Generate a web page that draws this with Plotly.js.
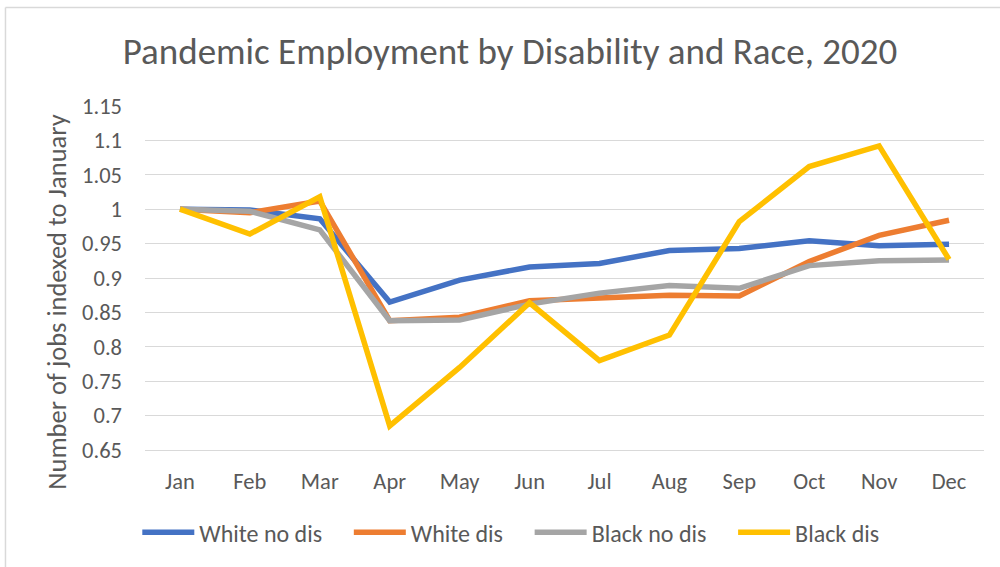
<!DOCTYPE html>
<html>
<head>
<meta charset="utf-8">
<script src="https://cdn.plot.ly/plotly-3.0.1.min.js"></script>
<style>
html,body{margin:0;padding:0;background:#fff;}
#chart{width:1000px;height:567px;}
</style>
</head>
<body>
<div id="chart"></div>
<script>
const months = ["Jan","Feb","Mar","Apr","May","Jun","Jul","Aug","Sep","Oct","Nov","Dec"];
const whiteNoDis = [1.0, 0.999, 0.986, 0.865, 0.897, 0.916, 0.921, 0.940, 0.943, 0.954, 0.947, 0.949];
const whiteDis   = [1.0, 0.995, 1.012, 0.838, 0.843, 0.867, 0.871, 0.875, 0.874, 0.924, 0.962, 0.984];
const blackNoDis = [1.0, 0.997, 0.970, 0.838, 0.839, 0.862, 0.878, 0.889, 0.885, 0.918, 0.925, 0.926];
const blackDis   = [1.0, 0.964, 1.018, 0.685, 0.770, 0.864, 0.780, 0.817, 0.982, 1.062, 1.092, 0.927];
const seriesNames = ["White no dis","White dis","Black no dis","Black dis"];
const colors = ["#4472C4","#ED7D31","#A5A5A5","#FFC000"];
const yTicks = [0.65,0.7,0.75,0.8,0.85,0.9,0.95,1,1.05,1.1,1.15];

const pad = "\u00a0\u00a0\u00a0\u00a0";
const data = [whiteNoDis, whiteDis, blackNoDis, blackDis].map((vals,i)=>({
  type:"scatter", mode:"lines", x:months, y:vals,
  name: seriesNames[i] + (i < 3 ? pad : ""),
  line:{color:colors[i], width:5.5, shape:"linear"}, cliponaxis:false
}));

const font = "Calibri, Carlito, 'Open Sans', 'Noto Sans', sans-serif";
const layout = {
  width:1000, height:567,
  margin:{l:145, r:16, t:106, b:115},
  paper_bgcolor:"#fff", plot_bgcolor:"#fff",
  font:{family:font, color:"#595959", size:22},
  title:{text:"Pandemic Employment by Disability and Race, 2020", x:0.51, xanchor:"center", y:0.91, yanchor:"middle",
         font:{size:37, color:"#595959", family:font}},
  xaxis:{type:"category", range:[-0.5,11.5], showgrid:false, zeroline:false, showline:true, linecolor:"#D9D9D9", linewidth:1,
         ticks:"", tickfont:{size:22.5, color:"#595959"}, ticklabelstandoff:11, fixedrange:true},
  yaxis:{range:[0.65,1.15], tickvals:yTicks, ticktext:yTicks.map(String), showgrid:true, gridcolor:"#D9D9D9", gridwidth:1,
         zeroline:false, showline:false, ticks:"", ticklen:0, tickfont:{size:22.5, color:"#595959"}, ticklabelstandoff:22},
  annotations:[{text:"Number of jobs indexed to January", xref:"paper", yref:"paper", x:-0.105, y:0.431,
                xanchor:"center", yanchor:"middle", textangle:-90, showarrow:false,
                font:{size:26.5, color:"#595959", family:font}}],
  legend:{orientation:"h", x:0.436, xanchor:"center", y:-0.175, yanchor:"top", font:{size:24, color:"#595959"},
          itemwidth:52, tracegroupgap:0},
  showlegend:true,
  shapes:[
    {type:"line", xref:"paper", yref:"paper", x0:-0.1663, x1:1.02, y0:1.286, y1:1.286, line:{color:"#D9D9D9", width:1.5}, layer:"below"},
    {type:"line", xref:"paper", yref:"paper", x0:-0.1663, x1:-0.1663, y0:1.286, y1:-0.34, line:{color:"#D9D9D9", width:1.5}, layer:"below"}
  ]
};
Plotly.newPlot("chart", data, layout, {displayModeBar:false, staticPlot:true});
</script>
</body>
</html>
